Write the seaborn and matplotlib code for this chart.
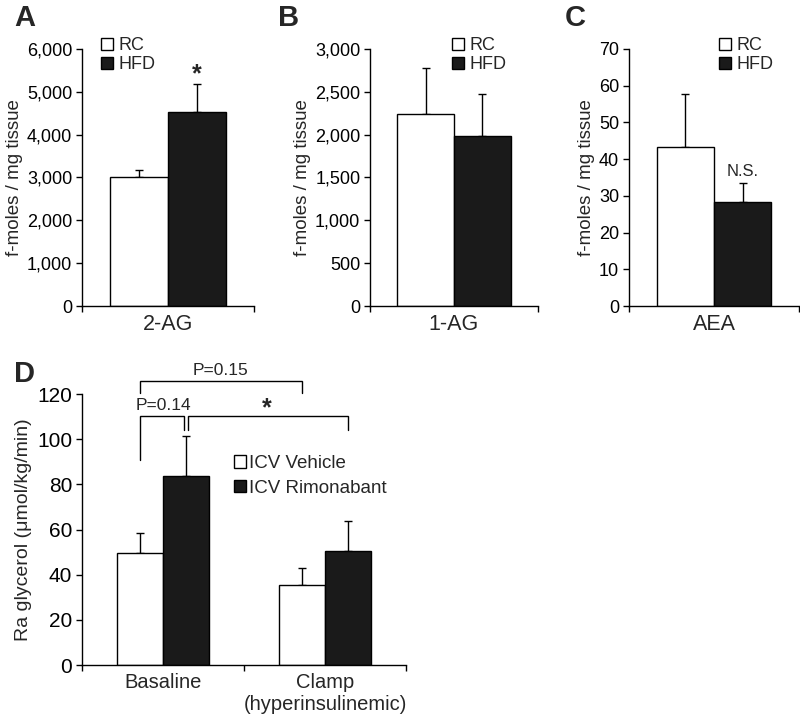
import matplotlib
matplotlib.use("Agg")
import matplotlib.pyplot as plt
from matplotlib.patches import Patch
import seaborn as sns
import pandas as pd

sns.set_style("ticks")
plt.rcParams['font.family'] = ['Liberation Sans', 'DejaVu Sans']

# ---------------- data ----------------
groups_abc = ["RC", "HFD"]
cat_a = "2-AG"
vals_a = [3000, 4520]
err_a = [170, 660]
cat_b = "1-AG"
vals_b = [2240, 1990]
err_b = [540, 480]
cat_c = "AEA"
vals_c = [43.2, 28.4]
err_c = [14.5, 5.0]

groups_d = ["ICV Vehicle", "ICV Rimonabant"]
cats_d = ["Basaline", "Clamp\n(hyperinsulinemic)"]
vehicle_d = [49.7, 35.3]
vehicle_err_d = [8.7, 7.5]
rimon_d = [83.5, 50.6]
rimon_err_d = [17.9, 13.2]

colors = ["white", "#1a1a1a"]

fig = plt.figure(figsize=(8, 7.15), dpi=100)


def style_axes(ax):
    for s in ["top", "right"]:
        ax.spines[s].set_visible(False)
    for s in ["left", "bottom"]:
        ax.spines[s].set_color("black")
        ax.spines[s].set_linewidth(1.0)
    ax.tick_params(axis="y", direction="out", length=4, width=1, colors="black", pad=3)
    ax.tick_params(axis="x", direction="out", length=4, width=1, colors="black")


def add_errbars(ax, errs_by_group):
    for cont, errs in zip(ax.containers, errs_by_group):
        for bar, e in zip(cont, errs):
            xc = bar.get_x() + bar.get_width() / 2
            h = bar.get_height()
            ax.errorbar([xc], [h], yerr=[[0], [e]], fmt="none", ecolor="black",
                        elinewidth=1, capsize=3, capthick=1, zorder=1)


def panel_abc(rect, cat, vals, errs, ymax, ystep, fmt, letter, letter_xy, leg_anchor):
    ax = fig.add_axes(rect)
    df = pd.DataFrame({"cat": [cat] * 2, "group": groups_abc, "value": vals})
    sns.barplot(data=df, x="cat", y="value", hue="group", hue_order=groups_abc,
                palette=colors, edgecolor="black", linewidth=1, width=0.674,
                errorbar=None, legend=False, ax=ax, zorder=2)
    add_errbars(ax, [[errs[0]], [errs[1]]])
    style_axes(ax)
    ax.set_xlim(-0.5, 0.5)
    ax.set_ylim(0, ymax)
    ticks = list(range(0, ymax + 1, ystep))
    ax.set_yticks(ticks)
    ax.set_yticklabels([fmt(t) for t in ticks], fontsize=13)
    ax.set_xticks([-0.5, 0.5])
    ax.set_xticklabels(["", ""])
    ax.set_xlabel(cat, fontsize=15.5, labelpad=-2)
    ax.set_ylabel("f-moles / mg tissue", fontsize=13.5, labelpad=3)
    handles = [Patch(facecolor=c, edgecolor="black", linewidth=1) for c in colors]
    ax.legend(handles, groups_abc, loc="upper left", bbox_to_anchor=leg_anchor,
              frameon=False, fontsize=13, handlelength=0.65, handleheight=0.65,
              handletextpad=0.3, labelspacing=0.1, borderpad=0, borderaxespad=0)
    fig.text(letter_xy[0], letter_xy[1], letter, fontsize=21, fontweight="bold",
             ha="left", va="top")
    return ax


axA = panel_abc([0.1025, 0.572, 0.215, 0.3595], cat_a, vals_a, err_a, 6000, 1000,
                lambda t: f"{t:,}", "A", (0.018, 0.995), (0.11, 1.045))
axA.text(axA.containers[1][0].get_x() + axA.containers[1][0].get_width() / 2, 5420, "*",
         ha="center", va="center", fontsize=18, fontweight="bold")

axB = panel_abc([0.4625, 0.572, 0.21, 0.3595], cat_b, vals_b, err_b, 3000, 500,
                lambda t: f"{t:,}", "B", (0.348, 0.995), (0.49, 1.045))

axC = panel_abc([0.786, 0.572, 0.213, 0.3595], cat_c, vals_c, err_c, 70, 10,
                lambda t: f"{t}", "C", (0.706, 0.995), (0.53, 1.045))
barC = axC.containers[1][0]
axC.text(barC.get_x() + barC.get_width() / 2, 36.5, "N.S.", ha="center", va="center",
         fontsize=12)

# ---------------- panel D ----------------
axD = fig.add_axes([0.1025, 0.0699, 0.405, 0.379])
rows = []
for c, v in zip(cats_d, vehicle_d):
    rows.append({"cat": c, "group": groups_d[0], "value": v})
for c, v in zip(cats_d, rimon_d):
    rows.append({"cat": c, "group": groups_d[1], "value": v})
dfD = pd.DataFrame(rows)
sns.barplot(data=dfD, x="cat", y="value", hue="group", hue_order=groups_d, order=cats_d,
            palette=colors, edgecolor="black", linewidth=1, width=0.57,
            errorbar=None, legend=False, ax=axD, zorder=2)
add_errbars(axD, [vehicle_err_d, rimon_err_d])
style_axes(axD)
axD.set_xlim(-0.5, 1.5)
axD.set_ylim(0, 120)
axD.set_yticks(range(0, 121, 20))
axD.set_yticklabels([str(t) for t in range(0, 121, 20)], fontsize=15)
axD.set_xticks([-0.5, 0.5, 1.5])
axD.set_xticklabels(["", "", ""])
axD.set_xticks([0, 1], minor=True)
axD.set_xticklabels(cats_d, minor=True, fontsize=14.5)
axD.tick_params(axis="x", which="minor", length=0, pad=6)
axD.set_xlabel("")
axD.set_ylabel("Ra glycerol (\u03bcmol/kg/min)", fontsize=14, labelpad=4)
handlesD = [Patch(facecolor=c, edgecolor="black", linewidth=1) for c in colors]
axD.legend(handlesD, groups_d, loc="upper left", bbox_to_anchor=(0.47, 0.775),
           frameon=False, fontsize=13.5, handlelength=0.65, handleheight=0.65,
           handletextpad=0.15, labelspacing=0.4, borderpad=0, borderaxespad=0)
fig.text(0.018, 0.497, "D", fontsize=21, fontweight="bold", ha="left", va="top")


def cx(bar):
    return bar.get_x() + bar.get_width() / 2


veh = axD.containers[0]
rim = axD.containers[1]


def bracket(x1, x2, ytop, y1, y2):
    axD.plot([x1, x1, x2, x2], [y1, ytop, ytop, y2], color="black", lw=1,
             clip_on=False, solid_joinstyle="miter")

# P=0.15: basal vehicle vs clamp vehicle
bracket(cx(veh[0]), cx(veh[1]), 125.9, 120.5, 120.5)
axD.text((cx(veh[0]) + cx(veh[1])) / 2, 130.5, "P=0.15", ha="center", va="center",
         fontsize=12.5, clip_on=False)
# P=0.14: basal vehicle vs basal rimonabant
bracket(cx(veh[0]), cx(rim[0]) - 0.01, 110.3, 90.8, 104)
axD.text((cx(veh[0]) + cx(rim[0])) / 2, 115, "P=0.14", ha="center", va="center",
         fontsize=12.5)
# *: basal rimonabant vs clamp rimonabant
bracket(cx(rim[0]) + 0.01, cx(rim[1]), 110.3, 104, 104)
axD.text((cx(rim[0]) + cx(rim[1])) / 2, 113.5, "*", ha="center", va="center",
         fontsize=18, fontweight="bold")

fig.savefig("out.png", dpi=100)
